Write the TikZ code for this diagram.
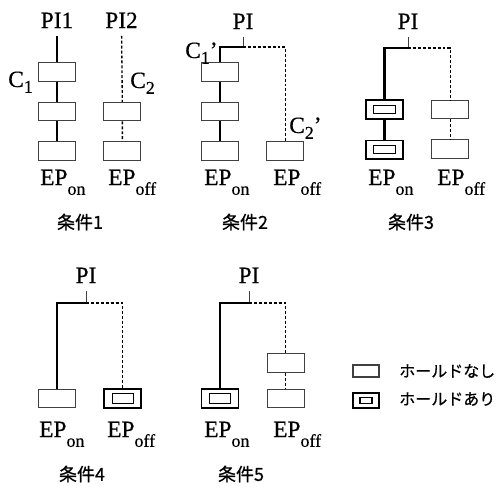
\documentclass[tikz,border=0pt]{standalone}
\usepackage{fontspec}
\setmainfont{Liberation Serif}[FakeBold=0.4]
\newfontfamily\jpfont{Noto Sans CJK JP}[FakeBold=0.6]
\usetikzlibrary{positioning}
\newcommand{\lowtext}[2]{\raisebox{#1}{\fontsize{13.5}{13.5}\selectfont #2}}
\newcommand{\eplabel}[1]{EP\lowtext{-0.42em}{#1}}

\begin{document}
\begin{tikzpicture}[
		x=0.75pt, y=-0.75pt,
		node distance=15pt,
		every node/.style={font=\fontsize{17.5}{17.5}\selectfont},
		box/.style={draw=black!75, line width=0.8pt, minimum width=27.75pt, minimum height=13.9pt, inner sep=0pt},
		smallbox/.style={box, minimum width=19.5pt, minimum height=9pt},
		hold/.style 2 args={draw=black, line width=1.2pt, path picture={
				\draw[line width=0.9pt] ([shift={(-#1,-#2)}]path picture bounding box.center) rectangle ([shift={(#1,#2)}]path picture bounding box.center);}},
		onpath/.style={line width=2.2pt},
		offpath/.style={line width=1pt, dash pattern=on 2.2pt off 1.5pt},
		stub/.style={line width=0.6pt, black!75},
		pilabel/.style={anchor=base, outer sep=2.5pt},
		lbl/.style={anchor=base west, inner sep=0pt},
		cond/.style={font=\jpfont\fontsize{13.5}{13.5}\selectfont},
		note/.style={font=\jpfont\fontsize{12}{12}\selectfont, anchor=west, inner sep=0pt}
		]
		\useasboundingbox (0,0) rectangle (499,489);
		
		% condition 1
		\node[pilabel] (pi1) at (57,28) {PI1};
		\node[box] (b11) at (57,72) {};
		\node[box, below=of b11] (b12) {};
		\node[box, below=of b12] (b13) {};
		\node[box, right=20.5pt of b13] (b15) {};
		\node[box, above=of b15] (b14) {};
		\node[pilabel] (pi2) at (121.5,28) {PI2};
		\draw[onpath] (pi1) -- (b11) (b11) -- (b12) (b12) -- (b13);
		\draw[offpath] (pi2) -- (b14) (b14) -- (b15);
		\node[lbl] (c1) at (8,87) {C\lowtext{-0.25em}{1}};
		\node[lbl] (c2) at (130,88) {C\lowtext{-0.25em}{2}};
		\node[lbl] (e11) at (40,185) {\eplabel{on}};
		\node[lbl] (e12) at (108,185) {\eplabel{off}};
		\node[cond] (k1) at (80,222) {条件1};
		
		% condition 2
		\node[pilabel] (pi3) at (243,29) {PI};
		\coordinate (j2) at (243,47);
		\node[box] (b21) at (220,72) {};
		\node[box, below=of b21] (b22) {};
		\node[box, below=of b22] (b23) {};
		\node[box, right=20.5pt of b23] (b24) {};
		\draw[stub] (pi3) -- (j2);
		\draw[onpath] (b21) |- (j2) (b21) -- (b22) (b22) -- (b23);
		\draw[offpath] (j2) -| (b24);
		\node[lbl] (c3) at (185,58) {C\lowtext{-0.25em}{1}'};
		\node[lbl] (c4) at (289,133) {C\lowtext{-0.25em}{2}'};
		\node[lbl] (e21) at (204,185) {\eplabel{on}};
		\node[lbl] (e22) at (273,185) {\eplabel{off}};
		\node[cond] (k2) at (245,222) {条件2};
		
		% condition 3
		\node[pilabel] (pi4) at (408,29) {PI};
		\coordinate (j3) at (408,48);
		\node[box, hold={8.25pt}{3pt}] (b31) at (384.5,109.5) {};
		\node[box, hold={8.25pt}{3pt}, below=of b31] (b32) {};
		\node[box, right=20.5pt of b31] (b33) {};
		\node[box, below=of b33] (b34) {};
		\draw[stub] (pi4) -- (j3);
		\draw[onpath] (b31) |- (j3) (b31) -- (b32);
		\draw[offpath] (j3) -| (b33) (b33) -- (b34);
		\node[lbl] (e31) at (368,185) {\eplabel{on}};
		\node[lbl] (e32) at (437,185) {\eplabel{off}};
		\node[cond] (k3) at (411,222) {条件3};
		
		% condition 4
		\node[pilabel] (pi6) at (86,283) {PI};
		\coordinate (j4) at (86,303);
		\node[box] (b41) at (57,398.5) {};
		\node[box, hold={7.9pt}{3.5pt}, right=20.5pt of b41] (b42) {};
		\draw[stub] (pi6) -- (j4);
		\draw[onpath] (b41) |- (j4);
		\draw[offpath] (j4) -| (b42);
		\node[lbl] (e41) at (39,437) {\eplabel{on}};
		\node[lbl] (e42) at (107,437) {\eplabel{off}};
		\node[cond] (k4) at (82,474) {条件4};
		
		% condition 5
		\node[pilabel] (pi7) at (249,283) {PI};
		\coordinate (j5) at (249,303);
		\node[box, hold={7.9pt}{3.5pt}] (b51) at (220,398.5) {};
		\node[box, right=20.5pt of b51] (b52) {};
		\node[box, above=12pt of b52] (b53) {};
		\draw[stub] (pi7) -- (j5);
		\draw[onpath] (b51) |- (j5);
		\draw[offpath] (j5) -| (b53) (b53) -- (b52);
		\node[lbl] (e51) at (204,437) {\eplabel{on}};
		\node[lbl] (e52) at (273,437) {\eplabel{off}};
		\node[cond] (k5) at (241,474) {条件5};
		
		% legend
		\node[smallbox] (n1) at (366,371) {};
		\node[smallbox, hold={4.5pt}{2.25pt}, minimum height=11.25pt] (n2) at (366,400.5) {};
		\node[note] (t1) at (399,371) {ホールドなし};
		\node[note] (t2) at (399,399) {ホールドあり};
	\end{tikzpicture}
\end{document}
